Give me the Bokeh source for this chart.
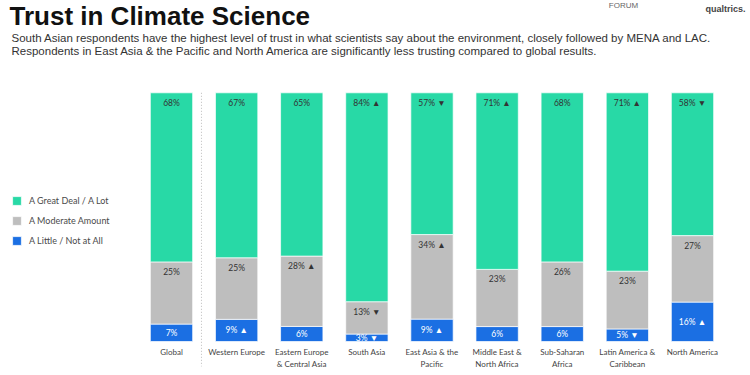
from bokeh.plotting import figure
from bokeh.models import Range1d, Label, Legend, LegendItem, ColumnDataSource
from bokeh.core.properties import value
from bokeh.embed import file_html
from bokeh.resources import INLINE

# ---- data ----
regions = ["Global", "Western Europe", "Eastern Europe\n& Central Asia", "South Asia",
           "East Asia & the\nPacific", "Middle East &\nNorth Africa", "Sub-Saharan\nAfrica",
           "Latin America &\nCaribbean", "North America"]
great_deal = [68, 67, 65, 84, 57, 71, 68, 71, 58]
moderate = [25, 25, 28, 13, 34, 23, 26, 23, 27]
little = [7, 9, 6, 3, 9, 6, 6, 5, 16]
sig_great = ["", "", "", "▲", "▼", "▲", "", "▲", "▼"]
sig_moderate = ["", "", "▲", "▼", "▲", "", "", "", ""]
sig_little = ["", "▲", "", "▼", "▲", "", "", "▼", "▲"]
series_names = ["A Great Deal / A Lot", "A Moderate Amount", "A Little / Not at All"]

GREEN = "#28D9A6"
GRAY = "#BEBEBE"
BLUE = "#1B6FE3"
FONT = "Lato"

W, H = 750, 375
n = len(regions)
xs = list(range(n))

# shares normalised to 100% (rounded values do not always add up to 100)
totals = [a + b + c for a, b, c in zip(great_deal, moderate, little)]
sh_great = [v / t * 100 for v, t in zip(great_deal, totals)]
sh_mod = [v / t * 100 for v, t in zip(moderate, totals)]
sh_little = [v / t * 100 for v, t in zip(little, totals)]

# pixel geometry of frame -> data ranges
x0px, dxpx = 171.0, 65.125
y0px, ppu = 341.0, 2.487  # pixel of 0%, pixels per percent

p = figure(width=W, height=H, output_backend="svg", toolbar_location=None,
           x_range=Range1d(-x0px / dxpx, (W - x0px) / dxpx),
           y_range=Range1d(-(H - y0px) / ppu, y0px / ppu),
           min_border=0, min_border_left=0, min_border_right=0,
           min_border_top=0, min_border_bottom=0)
p.axis.visible = False
p.grid.visible = False
p.outline_line_color = None
p.background_fill_color = "white"
p.border_fill_color = "white"

src = ColumnDataSource(dict(x=xs, little=sh_little, moderate=sh_mod, great=sh_great))
stack_r = p.vbar_stack(["little", "moderate", "great"], x="x", width=0.65, source=src,
                       color=[BLUE, GRAY, GREEN], line_color="white", line_width=0.7)

# divider between Global and regions
p.segment(x0=[0.46], y0=[100], x1=[0.46], y1=[-10], line_color="#BBBBBB",
          line_dash="1 2", line_width=1)

# value labels
lab_x, lab_y, lab_t, lab_c, lab_off = [], [], [], [], []
for i in range(n):
    lab_x.append(i); lab_y.append(sh_little[i] + sh_mod[i] + sh_great[i]); lab_off.append(10)
    lab_t.append(f"{great_deal[i]}%" + (" " + sig_great[i] if sig_great[i] else ""))
    lab_c.append("#333333")
    lab_x.append(i); lab_y.append(sh_little[i] + sh_mod[i]); lab_off.append(10)
    lab_t.append(f"{moderate[i]}%" + (" " + sig_moderate[i] if sig_moderate[i] else ""))
    lab_c.append("#333333")
    lab_x.append(i); lab_y.append(sh_little[i] / 2); lab_off.append(0)
    lab_t.append(f"{little[i]}%" + (" " + sig_little[i] if sig_little[i] else ""))
    lab_c.append("white")
p.text(x=lab_x, y=lab_y, text=lab_t, y_offset=lab_off, text_color=lab_c,
       text_font=value(FONT), text_font_size="8.5px", text_align="center",
       text_baseline="middle")

# category labels
p.text(x=xs, y=[0] * n, text=regions, y_offset=5, text_color="#444444",
       text_font=value(FONT), text_font_size="8px", text_align="center",
       text_baseline="top", text_line_height=1.25)

# legend
legend = Legend(items=[LegendItem(label=series_names[0], renderers=[stack_r[2]]),
                       LegendItem(label=series_names[1], renderers=[stack_r[1]]),
                       LegendItem(label=series_names[2], renderers=[stack_r[0]])],
                location=(11, 129), orientation="vertical",
                glyph_width=11, glyph_height=11, label_height=11, spacing=9,
                padding=5, margin=0, label_standoff=7,
                label_text_font=FONT, label_text_font_size="9px",
                label_text_color="#4a4a4a",
                border_line_color=None, background_fill_alpha=0)
p.add_layout(legend, "center")

# title + subtitle
p.add_layout(Label(x=9, y=H - 15, x_units="screen", y_units="screen",
                   text="Trust in Climate Science", text_font="Liberation Sans",
                   text_font_style="bold", text_font_size="26px", text_color="#111111",
                   text_baseline="alphabetic"))
p.add_layout(Label(x=11, y=H - 37, x_units="screen", y_units="screen",
                   text="South Asian respondents have the highest level of trust in what scientists say about the environment, closely followed by MENA and LAC.",
                   text_font="Liberation Sans", text_font_size="11.5px",
                   text_color="#333333", text_baseline="middle"))
p.add_layout(Label(x=11, y=H - 50, x_units="screen", y_units="screen",
                   text="Respondents in East Asia & the Pacific and North America are significantly less trusting compared to global results.",
                   text_font="Liberation Sans", text_font_size="11.5px",
                   text_color="#333333", text_baseline="middle"))
# logo texts
p.add_layout(Label(x=623, y=H - 5, x_units="screen", y_units="screen",
                   text="FORUM", text_font="Liberation Sans", text_font_size="8px",
                   text_color="#666666", text_align="center", text_baseline="middle"))
p.add_layout(Label(x=705, y=H - 8, x_units="screen", y_units="screen",
                   text="qualtrics.", text_font="Liberation Sans", text_font_style="bold",
                   text_font_size="9px", text_color="#444444", text_baseline="alphabetic"))

open("out.html", "w").write(file_html(p, INLINE))
